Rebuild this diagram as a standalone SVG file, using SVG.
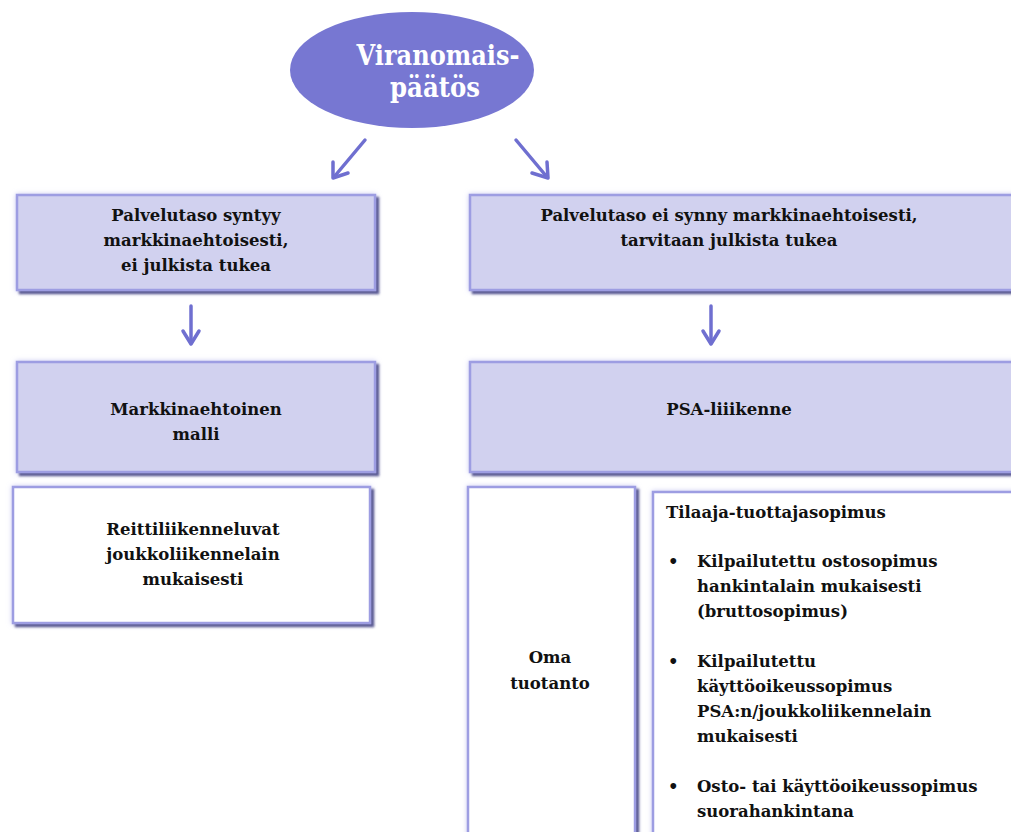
<svg xmlns="http://www.w3.org/2000/svg" width="1011" height="832" viewBox="0 0 1011 832">
  <defs>
    <filter id="shadow" x="-5%" y="-10%" width="115%" height="130%">
      <feGaussianBlur in="SourceAlpha" stdDeviation="1.2" result="b"/>
      <feOffset in="b" dx="2.5" dy="2.5" result="o"/>
      <feFlood flood-color="#3c3c80" flood-opacity="0.85"/>
      <feComposite in2="o" operator="in" result="s"/>
      <feGaussianBlur in="SourceAlpha" stdDeviation="2.5" result="g0"/>
      <feFlood flood-color="#b4b4ec" flood-opacity="0.7"/>
      <feComposite in2="g0" operator="in" result="g"/>
      <feMerge>
        <feMergeNode in="g"/>
        <feMergeNode in="s"/>
        <feMergeNode in="SourceGraphic"/>
      </feMerge>
    </filter>
    <style>
      .box { stroke: #9d9de2; stroke-width: 2.5; filter: url(#shadow); }
      .lilac { fill: #d1d1ef; }
      .white { fill: #ffffff; }
      .t { font-family: "DejaVu Serif", "Liberation Serif", serif; font-weight: bold; font-size: 16.5px; fill: #111111; }
      .c { text-anchor: middle; }
      .title { font-family: "DejaVu Serif", "Liberation Serif", serif; font-weight: bold; font-size: 28px; fill: #ffffff; text-anchor: middle; }
      .conn { stroke: #6f6fd0; stroke-width: 3.5; fill: none; stroke-linecap: round; stroke-linejoin: round; }
    </style>
  </defs>
  <rect width="1011" height="832" fill="#ffffff"/>

  <g id="decision">
    <ellipse cx="412" cy="70" rx="122" ry="58" fill="#7777d2"/>
    <text class="title" x="438" y="65" textLength="163" lengthAdjust="spacingAndGlyphs">Viranomais-</text>
    <text class="title" x="435" y="97" textLength="90" lengthAdjust="spacingAndGlyphs">päätös</text>
  </g>

  <g id="connectors">
    <path class="conn" d="M365,140 L334,177"/>
    <path class="conn" d="M333,162 L333,178 L348,173"/>
    <path class="conn" d="M516,140 L547,177"/>
    <path class="conn" d="M532,173 L548,178 L547,162"/>
    <path class="conn" d="M191,306 L191,343"/>
    <path class="conn" d="M183,331 L191,344 L199,331"/>
    <path class="conn" d="M711,306 L711,343"/>
    <path class="conn" d="M703,331 L711,344 L719,331"/>
  </g>

  <g id="market-level">
    <rect class="box lilac" x="17" y="195" width="358" height="95"/>
    <text class="t c" x="196" y="221">Palvelutaso syntyy</text>
    <text class="t c" x="196" y="246">markkinaehtoisesti,</text>
    <text class="t c" x="196" y="271">ei julkista tukea</text>
  </g>

  <g id="market-model">
    <rect class="box lilac" x="17" y="362" width="358" height="110"/>
    <text class="t c" x="196" y="415">Markkinaehtoinen</text>
    <text class="t c" x="196" y="440">malli</text>
  </g>

  <g id="route-licences">
    <rect class="box white" x="13" y="487" width="357" height="136"/>
    <text class="t c" x="193" y="535">Reittiliikenneluvat</text>
    <text class="t c" x="193" y="560">joukkoliikennelain</text>
    <text class="t c" x="193" y="585">mukaisesti</text>
  </g>

  <g id="subsidy-level">
    <rect class="box lilac" x="470" y="195" width="560" height="95"/>
    <text class="t c" x="729" y="221">Palvelutaso ei synny markkinaehtoisesti,</text>
    <text class="t c" x="729" y="246">tarvitaan julkista tukea</text>
  </g>

  <g id="psa">
    <rect class="box lilac" x="470" y="362" width="560" height="110"/>
    <text class="t c" x="729" y="415">PSA-liiikenne</text>
  </g>

  <g id="own-production">
    <rect class="box white" x="468" y="487" width="167" height="360"/>
    <text class="t c" x="550" y="663">Oma</text>
    <text class="t c" x="550" y="689">tuotanto</text>
  </g>

  <g id="contract">
    <rect class="box white" x="653" y="492" width="380" height="360"/>
    <text class="t" x="666" y="518">Tilaaja-tuottajasopimus</text>
    <g class="t">
      <text x="668" y="567">•</text>
      <text x="697" y="567">Kilpailutettu ostosopimus</text>
      <text x="697" y="592">hankintalain mukaisesti</text>
      <text x="697" y="617">(bruttosopimus)</text>
      <text x="668" y="667">•</text>
      <text x="697" y="667">Kilpailutettu</text>
      <text x="697" y="692">käyttöoikeussopimus</text>
      <text x="697" y="717">PSA:n/joukkoliikennelain</text>
      <text x="697" y="742">mukaisesti</text>
      <text x="668" y="792">•</text>
      <text x="697" y="792">Osto- tai käyttöoikeussopimus</text>
      <text x="697" y="817">suorahankintana</text>
    </g>
  </g>
</svg>
